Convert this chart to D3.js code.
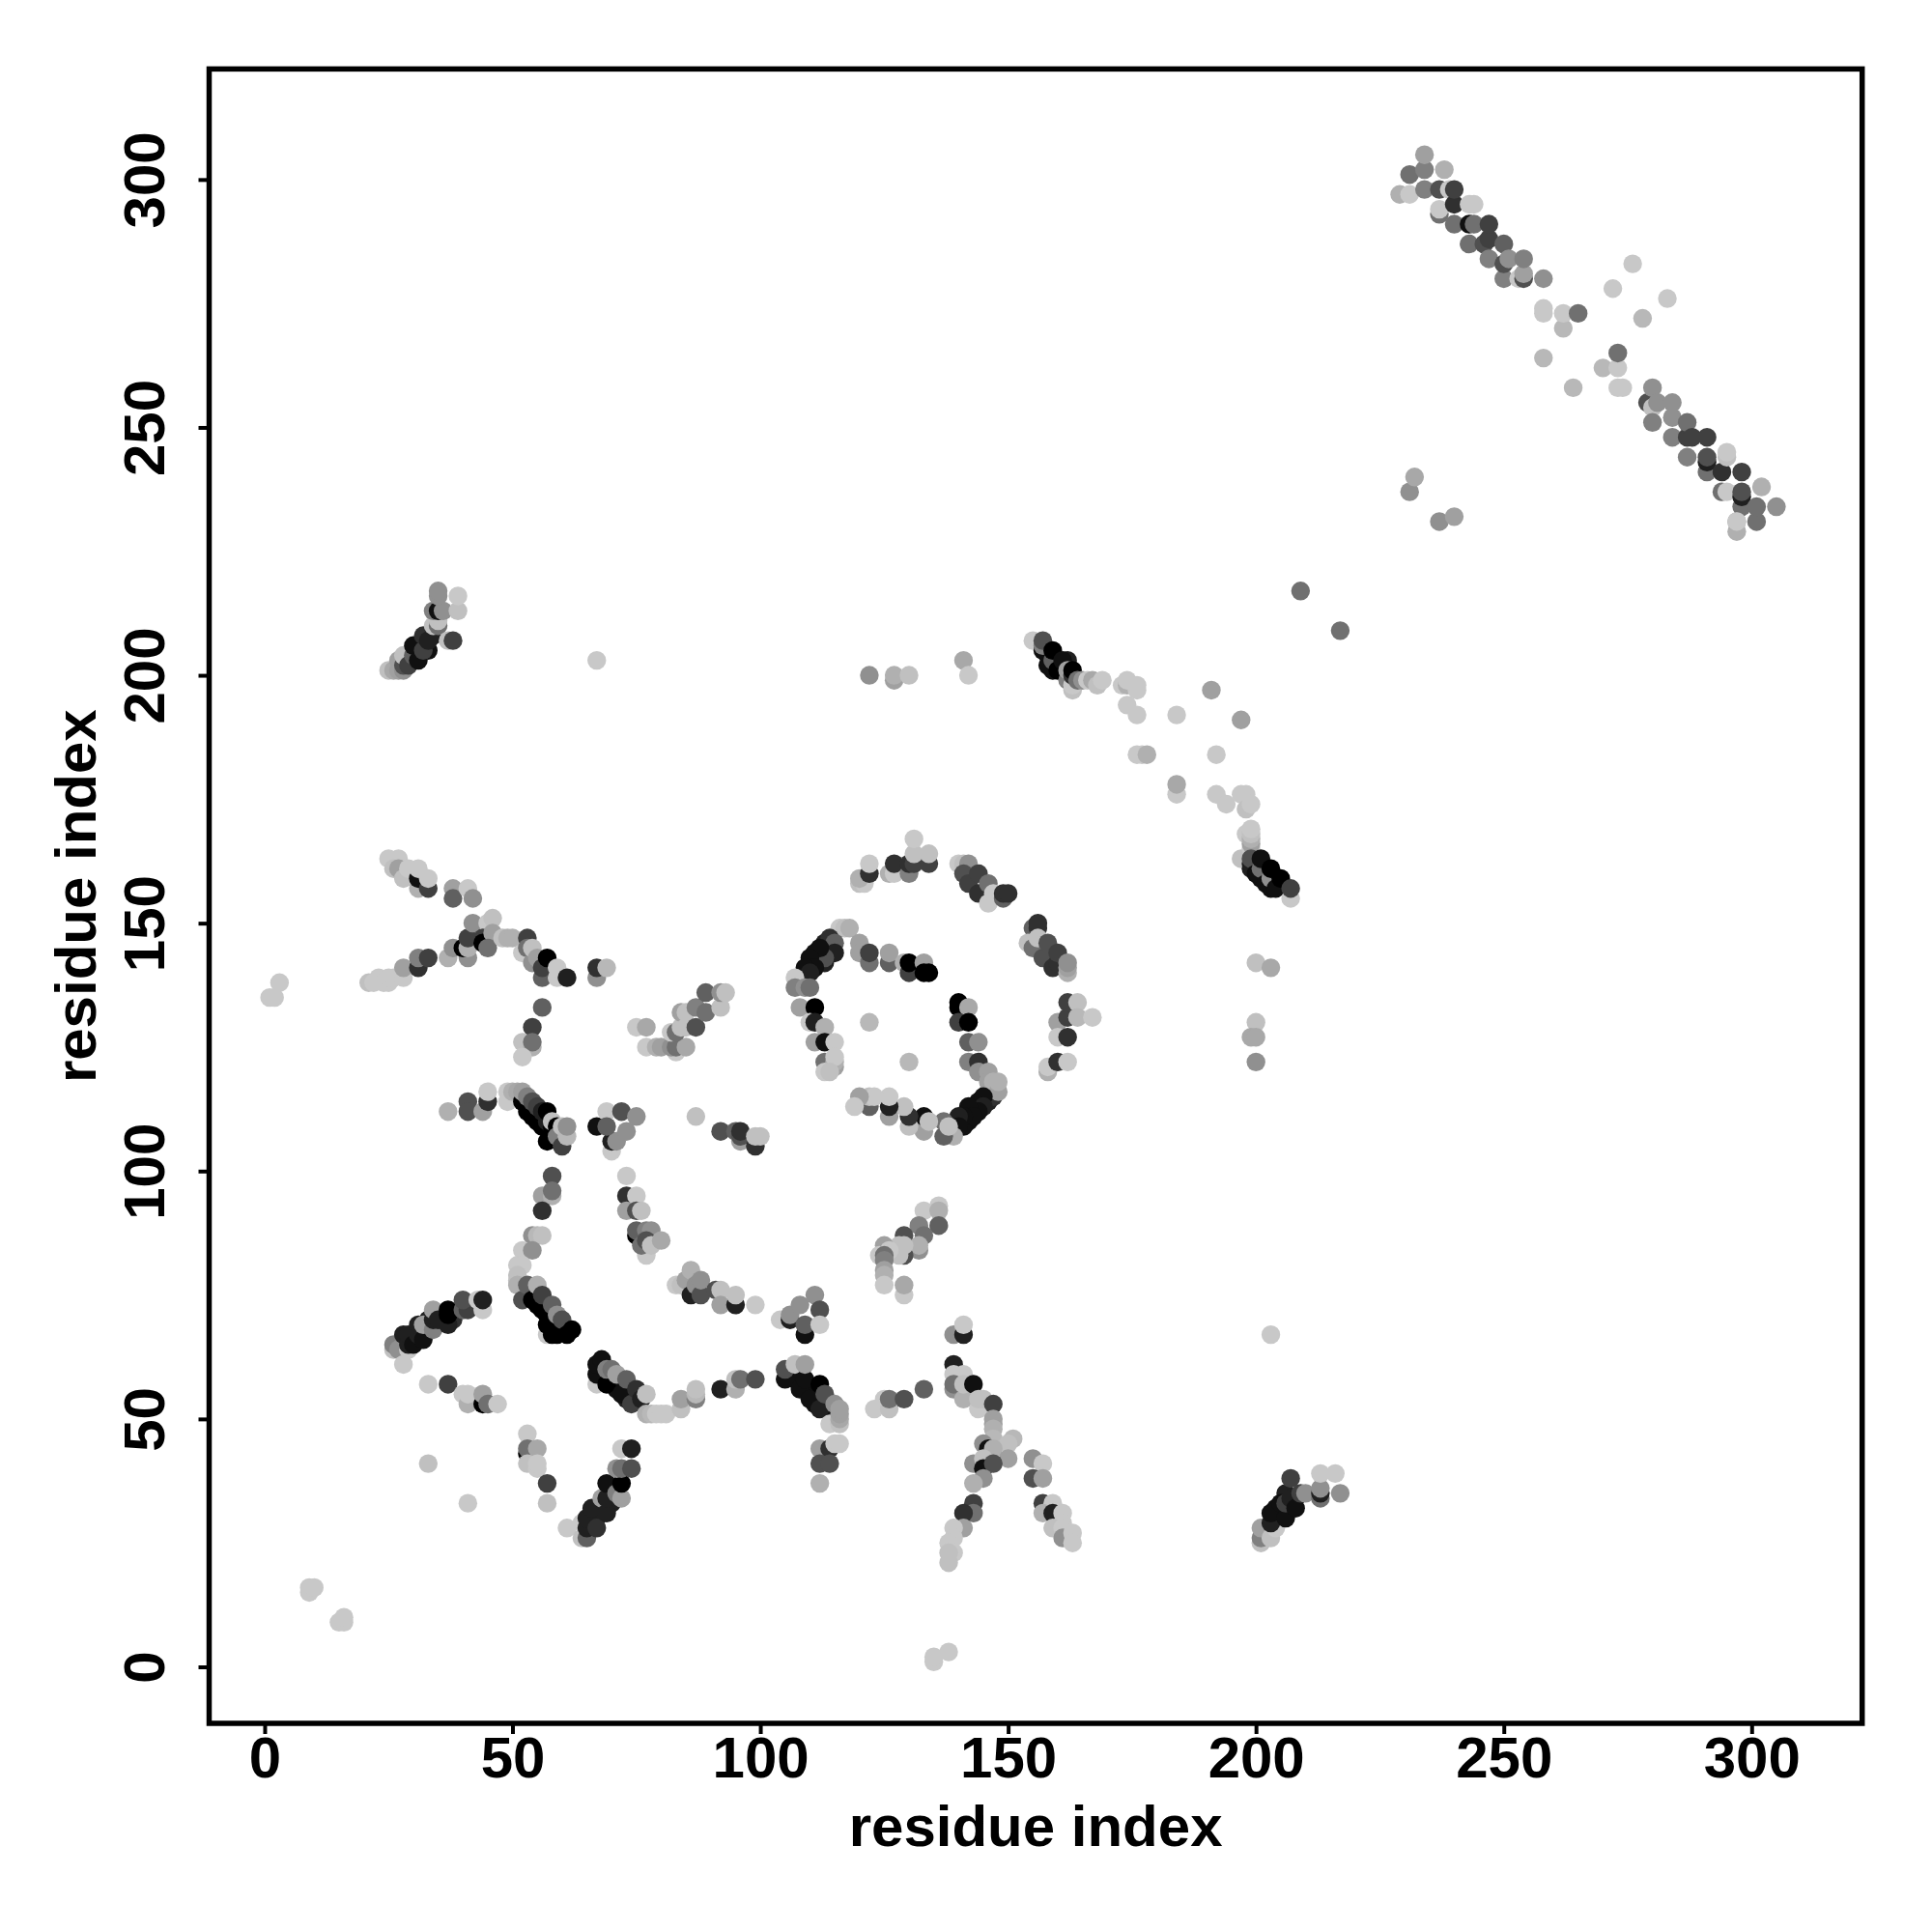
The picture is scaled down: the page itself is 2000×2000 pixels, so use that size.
<!DOCTYPE html>
<html><head><meta charset="utf-8">
<script src="https://cdnjs.cloudflare.com/ajax/libs/d3/7.8.5/d3.min.js"></script>
<style>html,body{margin:0;padding:0;background:#fff}svg{display:block}</style>
</head><body><svg id="c" width="2000" height="2000"></svg>
<script>
// [residue i, residue j, grey level]
const underDark=[[111,144,16],[112,142,16],[113,146,32],[114,144,48],[110,142,16],[142,110,16],[143,113,16],[144,114,16],[146,114,32],[141,109,16],[146,116,96],[30,67,32],[33,68,32],[36,71,32],[38,70,48],[33,70,32],[55,110,0],[55,111,0],[53,113,0],[55,73,0],[57,71,0],[58,69,0],[55,75,32],[53,76,16],[66,28,32],[66,30,32],[67,30,32],[68,33,16],[70,36,32],[70,33,32],[68,31,32],[204,30,16],[205,31,16],[207,33,16],[208,34,16],[204,32,16],[206,35,32],[29,204,16],[31,205,32],[33,205,16],[32,207,16],[34,208,32],[158,204,16],[160,203,16],[161,201,16],[159,201,16],[162,203,32],[201,159,16],[202,160,16],[203,157,16],[204,159,16],[200,162,16],[68,58,16],[70,57,16],[71,56,16],[73,55,16],[73,54,32],[70,59,16],[107,58,16],[109,56,16],[111,55,16],[111,53,16],[113,52,16]];
const farLeft=[[1,135,200],[2,135,200],[3,138,200],[9,15,200],[9,16,200],[10,16,200],[15,9,200],[16,9,200],[16,10,200],[67,203,200]];
const strand160=[[25,163,200],[27,163,200],[26,161,192],[27,161,160],[28,159,192],[29,161,200],[31,157,176],[31,159,16],[31,161,200],[33,157,64],[33,159,200],[38,157,160],[38,155,96],[41,157,200],[42,155,144]];
const strand140=[[21,138,192],[22,138,200],[23,139,200],[24,138,200],[25,138,200],[25,139,200],[26,139,200],[28,139,200],[28,141,160],[31,141,48],[31,143,128],[33,143,64]];
const strand150=[[37,143,176],[38,145,144],[41,143,144],[40,145,0],[41,145,176],[41,147,64],[42,150,144],[45,150,200],[46,151,192],[44,147,64],[44,146,0],[46,148,160],[45,145,112],[48,147,192],[49,147,176],[50,147,176],[52,144,200],[53,147,64],[53,145,112],[54,142,144],[54,145,192],[55,143,160],[56,139,96],[56,141,64],[57,143,0],[59,139,200],[59,141,200],[61,139,32],[67,139,144],[67,141,48],[69,141,184]];
const stem125=[[56,133,96],[54,129,64],[52,126,192],[54,125,176],[54,126,112],[52,123,200]];
const patch130=[[75,129,200],[77,129,168],[77,125,200],[79,125,176],[80,125,160],[83,124,200],[82,125,144],[83,125,112],[85,125,168],[82,128,200],[83,128,112],[84,129,192],[84,132,160],[85,132,192],[85,129,192],[87,129,80],[87,133,128],[89,132,112],[89,136,96],[92,133,192],[92,136,144],[93,136,192]];
const strand115=[[37,112,176],[41,114,80],[41,112,80],[44,112,160],[45,114,48],[45,116,200],[49,116,200],[49,114,200],[50,116,176],[51,116,168],[52,114,0],[52,116,160],[53,112,0],[53,115,128],[54,111,0],[54,114,80],[55,113,64],[56,109,0],[56,112,32],[57,106,0],[57,110,32],[57,112,0],[58,109,0],[58,110,192],[59,109,0],[59,107,128],[60,105,64],[60,109,192],[61,107,184],[61,109,144]];
const patch108=[[70,104,200],[67,109,16],[69,112,200],[70,106,32],[71,106,144],[69,109,96],[72,112,80],[73,108,144],[75,111,144],[87,111,192],[92,108,80],[95,108,96],[96,106,160],[96,107,80],[96,108,48],[99,105,48],[99,107,192],[100,107,192]];
const stem95=[[58,99,80],[56,95,160],[58,95,176],[58,96,112],[56,92,48],[73,99,200],[73,95,48],[75,95,200],[73,92,160],[75,92,80],[76,92,192],[75,87,0],[75,88,96],[77,88,128],[78,88,144],[77,84,192],[77,83,200],[76,85,112],[77,86,80],[78,85,192],[80,86,168]];
const strand70=[[26,64,192],[26,65,128],[27,64,144],[28,61,200],[28,67,32],[29,64,200],[29,65,32],[29,67,32],[30,65,16],[31,67,32],[31,69,32],[32,66,16],[32,69,160],[34,68,128],[34,70,32],[34,72,160],[35,70,32],[37,69,32],[37,71,0],[37,72,0],[40,72,96],[41,72,64],[40,74,80],[43,74,200],[44,72,200],[44,74,32]];
const strand55=[[33,57,200],[37,57,64],[40,55,200],[41,53,176],[41,55,200],[44,53,0],[44,55,160],[45,53,112],[47,53,200]];
const stemDown=[[53,47,200],[53,43,0],[53,44,112],[55,44,168],[53,41,192],[55,40,200],[55,41,200],[57,37,64],[57,33,192],[33,41,192],[41,33,200],[61,28,200]];
const vArm=[[64,26,192],[64,29,200],[65,26,96],[65,28,32],[65,30,32],[66,32,32],[67,28,48],[68,34,160],[69,31,32],[69,34,32],[69,37,16],[71,35,128],[72,34,160],[72,37,0],[71,40,144],[72,40,112],[74,40,80],[72,44,200],[74,44,32]];
const strand75=[[54,87,144],[55,87,184],[56,87,192],[52,84,200],[54,84,144],[51,81,200],[52,81,200],[51,79,192],[51,78,192],[51,77,176],[52,74,80],[53,77,96],[54,74,0],[55,77,176],[56,72,0],[56,75,64],[57,67,200],[57,69,0],[58,67,0],[58,73,96],[59,67,0],[59,71,144],[60,70,80],[61,67,0],[62,68,0]];
const strand60=[[67,57,200],[67,59,16],[67,61,16],[68,62,16],[69,57,0],[69,60,128],[70,60,112],[71,59,160],[72,55,16],[73,58,96],[74,53,64],[75,56,48],[76,54,32],[77,51,176],[77,55,192],[78,51,184],[79,51,200],[80,51,200],[81,51,200],[84,52,192],[84,54,160],[87,54,128],[87,55,184],[87,56,192],[92,56,32],[95,56,176],[95,58,192],[96,58,112],[99,58,80]];
const patch75=[[83,77,200],[84,77,192],[85,78,160],[86,80,176],[86,75,32],[87,77,144],[88,75,80],[88,78,144],[91,76,80],[92,76,192],[92,73,160],[95,73,32],[95,75,192],[99,73,200]];
const patch70=[[104,70,200],[106,70,32],[106,71,144],[108,73,144],[109,67,16],[109,69,96],[111,75,144],[112,72,80],[112,69,200]];
const strand52=[[105,58,16],[105,60,80],[107,61,192],[108,56,16],[109,58,16],[110,54,16],[109,61,160],[112,52,32],[112,57,0],[113,55,80],[114,49,200],[115,53,144],[116,49,192],[116,50,168],[116,51,160],[116,52,160],[112,44,160],[114,44,48],[115,45,200],[116,45,200],[112,41,80],[114,41,80],[112,37,176],[123,52,200],[125,54,200],[126,52,192],[126,54,112],[129,54,80],[133,56,96]];
const armA=[[139,67,144],[141,67,32],[141,69,200],[139,61,32],[139,59,200],[141,59,200],[139,56,144],[139,57,112],[141,54,176],[141,57,192],[143,57,16],[144,52,200],[144,54,192],[145,54,192],[147,53,64],[147,50,160],[147,49,160],[147,48,176],[147,46,184],[151,46,184],[150,45,192],[145,45,144],[146,44,16],[147,44,176],[150,42,160],[143,41,144],[145,42,192],[145,40,16],[147,41,80],[145,38,144],[143,37,176],[143,33,64],[143,31,112],[141,31,48],[141,28,160],[139,28,200],[139,26,200],[138,25,200],[139,23,200],[138,23,192],[138,21,192]];
const armB=[[155,42,144],[157,41,200],[155,38,80],[157,38,160],[157,33,64],[159,33,200],[157,31,176],[159,31,32],[161,31,200],[161,29,200],[159,28,192],[161,28,200],[161,26,144],[163,27,200],[163,25,200]];
const arm35=[[201,25,192],[201,26,128],[201,28,160],[203,26,192],[204,28,200],[203,29,32],[203,31,16],[205,33,16],[206,30,16],[206,33,64],[207,34,32],[207,38,64],[208,32,16],[209,35,64],[210,35,144],[213,34,112],[213,35,32],[213,36,144],[213,39,200],[216,39,200],[217,35,144],[203,67,200],[135,1,200],[135,2,200],[138,3,200]];
const patch85=[[136,93,200],[133,92,200],[136,92,176],[136,89,96],[132,89,128],[133,87,112],[129,87,80],[132,84,144],[132,85,176],[129,83,80],[128,83,192],[129,85,192],[128,85,192],[125,85,160],[126,84,200],[124,83,200],[125,83,112],[125,82,128],[125,80,160],[125,79,176],[125,77,200],[129,75,200],[129,77,168]];
const ringTop=[[120,158,192],[121,158,200],[120,159,176],[122,160,48],[122,162,200],[126,160,176],[127,160,200],[127,162,48],[130,160,128],[130,162,48],[131,162,64],[134,162,64],[131,164,192],[134,164,192],[131,167,200]];
const ringUpperRight=[[140,162,200],[141,162,192],[142,162,144],[141,160,80],[142,158,64],[144,160,64],[144,156,48],[146,158,112],[146,154,200],[147,156,200],[149,155,96],[149,156,48],[150,156,48]];
const ringLeft=[[116,149,200],[117,149,192],[118,149,176],[114,147,48],[115,146,96],[115,144,32],[113,142,32],[113,143,80],[112,145,16],[110,143,16],[111,141,16],[109,141,16],[110,140,32],[107,139,200],[107,137,128],[109,137,144],[110,137,112],[108,133,160],[111,133,0],[110,130,200],[111,130,32],[113,129,176],[111,126,160],[113,126,16],[115,126,200],[113,122,112],[115,121,160],[115,122,176],[115,123,200],[113,120,200],[114,120,192]];
const ringInner=[[120,146,160],[120,144,160],[122,142,112],[122,144,64],[126,142,96],[126,144,160],[129,142,176],[130,140,64],[130,142,0],[133,142,160],[133,140,0],[134,140,0],[122,130,184],[130,122,184]];
const ringRight=[[140,133,0],[140,134,0],[142,133,168],[140,130,64],[142,130,0],[142,126,96],[144,126,144],[142,122,128],[144,122,48],[144,120,144],[146,120,160],[146,118,160],[147,116,128],[147,115,48],[147,118,176],[148,116,160],[148,118,176],[145,115,16],[145,113,32],[144,112,16],[142,113,16],[143,111,16],[141,111,16],[140,111,32],[140,109,16],[139,107,176],[137,107,96],[137,110,112],[138,109,192],[133,108,160],[133,111,16],[134,110,192],[130,109,192],[130,111,48],[129,113,192],[126,111,160],[126,113,32],[126,115,200],[122,113,96],[122,115,192],[123,115,200],[120,115,160],[119,113,200]];
const ringOuter=[[155,149,96],[156,149,48],[156,150,48],[154,146,192],[155,145,112],[156,147,192],[157,143,80],[158,146,80],[159,141,48],[160,142,48],[160,144,64],[162,140,176],[162,141,160],[162,142,144],[160,130,160],[160,127,200],[162,127,48],[162,131,64],[162,134,64],[164,134,192],[164,131,184],[167,131,200],[158,120,176],[158,121,200],[160,122,48],[162,122,200]];
const corner200=[[25,201,192],[26,201,168],[27,201,160],[27,203,160],[28,201,144],[28,202,80],[28,204,192],[29,202,64],[30,204,96],[30,206,16],[31,203,16],[32,205,64],[32,208,48],[33,207,32],[34,210,192],[35,210,112],[35,211,192],[34,213,128],[35,213,16],[36,213,144],[35,216,144],[35,217,144],[37,207,192],[38,207,64],[39,213,192],[39,216,200]];
const mid200=[[122,200,144],[127,199,160],[127,200,176],[130,200,192],[141,203,168],[142,200,200]];
const strand200=[[155,207,200],[157,205,16],[157,206,128],[157,207,80],[158,202,16],[159,203,96],[159,205,0],[160,201,0],[161,203,16],[162,199,128],[162,201,160],[163,197,192],[163,198,200],[163,200,48],[163,201,0],[164,199,112],[165,199,144],[166,199,200],[167,199,168],[168,198,192],[169,199,200]];
const scatter185=[[173,198,200],[174,198,176],[174,199,200],[176,197,200],[176,198,200],[174,194,200],[176,192,200],[184,192,200],[191,197,160],[197,191,160],[176,184,200],[177,184,200],[178,184,176],[192,184,200],[184,176,200],[184,178,168],[192,176,200],[194,174,200],[197,176,200],[198,176,200],[198,173,192],[199,174,200]];
const strand160b=[[197,163,192],[198,168,200],[199,165,200],[199,166,160],[199,167,176],[199,168,192],[199,169,200],[199,161,32],[199,162,32],[199,163,80],[200,160,16],[201,161,112],[201,163,16],[202,158,16],[203,159,144],[203,161,0],[204,157,16],[205,159,0],[207,155,200],[207,157,64],[200,142,192],[203,141,168],[200,130,192],[199,127,168],[200,127,168],[200,122,144]];
const diagUpper=[[229,297,176],[231,297,200],[231,301,112],[234,298,128],[234,302,128],[234,305,160],[237,293,112],[237,294,200],[237,298,80],[238,302,176],[239,298,200],[240,291,112],[240,295,48],[240,298,64],[243,287,112],[243,291,16],[243,295,200],[244,291,112],[244,295,200],[246,287,80],[247,284,128],[247,288,64],[247,291,64],[250,280,128],[250,283,80],[250,287,96],[251,284,144],[253,280,200],[254,280,80],[254,281,160],[254,284,128],[258,280,144]];
const diagMiddle=[[258,273,200],[258,274,200],[258,264,184],[262,270,184],[262,273,200],[265,273,112],[264,258,184],[270,262,184],[273,262,200],[273,265,112],[273,258,200],[274,258,200],[272,278,200],[276,283,200],[278,272,184],[283,276,200]];
const diagLower=[[279,255,80],[280,258,144],[280,254,192],[281,255,144],[280,251,128],[284,252,144],[284,255,144],[284,248,128],[287,244,128],[287,248,64],[287,251,112],[288,248,64],[291,241,112],[291,243,32],[291,244,80],[291,248,64],[294,237,112],[294,241,48],[295,237,200],[295,244,192],[295,245,200],[298,234,112],[298,236,32],[298,237,80],[298,241,64],[297,229,176],[297,231,160],[297,231,200],[301,231,112],[301,234,112],[302,238,176],[305,234,144]];
const stray=[[231,237,144],[232,240,168],[237,231,144],[240,232,160],[209,217,112],[217,209,112]];
const xTicks=[0,50,100,150,200,250,300];
const yTicks=[0,50,100,150,200,250,300];
const axisTitle="residue index";

const points=[].concat(underDark,farLeft,strand160,strand140,strand150,stem125,patch130,strand115,patch108,stem95,strand70,strand55,stemDown,vArm,strand75,strand60,patch75,patch70,strand52,armA,armB,arm35,patch85,ringTop,ringUpperRight,ringLeft,ringInner,ringRight,ringOuter,corner200,mid200,strand200,scatter185,strand160b,diagUpper,diagMiddle,diagLower,stray);

const F='"Liberation Sans",Arial,sans-serif';
const svg=d3.select("#c");
const x=d3.scaleLinear().domain([-11.2,322.3]).range([216.5,1927.7]);
const y=d3.scaleLinear().domain([-11.4,322.3]).range([1784,71.4]);

svg.append("g").selectAll("circle").data(points).join("circle")
  .attr("cx",d=>x(d[0])).attr("cy",d=>y(d[1])).attr("r",9.7)
  .attr("fill",d=>d3.rgb(d[2],d[2],d[2]).formatHex());

const gx=svg.append("g").attr("transform",`translate(0,${y.range()[0]})`)
  .call(d3.axisBottom(x).tickValues(xTicks).tickFormat(d3.format("d")).tickSize(11).tickPadding(2.5));
const gy=svg.append("g").attr("transform",`translate(${x.range()[0]},0)`)
  .call(d3.axisLeft(y).tickValues(yTicks).tickFormat(d3.format("d")).tickSize(11));
gy.selectAll("text").attr("x",null).attr("dy",null).attr("text-anchor","middle")
  .attr("transform","translate(-46.5,0) rotate(-90)");
[gx,gy].forEach(g=>{
  g.select(".domain").remove();
  g.selectAll("line").attr("stroke","#000").attr("stroke-width",4);
  g.selectAll("text").attr("font-family",F).attr("font-weight","bold").attr("font-size",60).attr("fill","#000");
});
svg.append("rect").attr("x",x.range()[0]).attr("y",y.range()[1])
  .attr("width",x.range()[1]-x.range()[0]).attr("height",y.range()[0]-y.range()[1])
  .attr("fill","none").attr("stroke","#000").attr("stroke-width",5.5);
svg.append("text").attr("x",(x.range()[0]+x.range()[1])/2).attr("y",1911).attr("text-anchor","middle")
  .attr("font-family",F).attr("font-weight","bold").attr("font-size",60).text(axisTitle);
svg.append("text").attr("transform",`translate(99,${(y.range()[0]+y.range()[1])/2}) rotate(-90)`).attr("text-anchor","middle")
  .attr("font-family",F).attr("font-weight","bold").attr("font-size",60).text(axisTitle);
</script></body></html>
